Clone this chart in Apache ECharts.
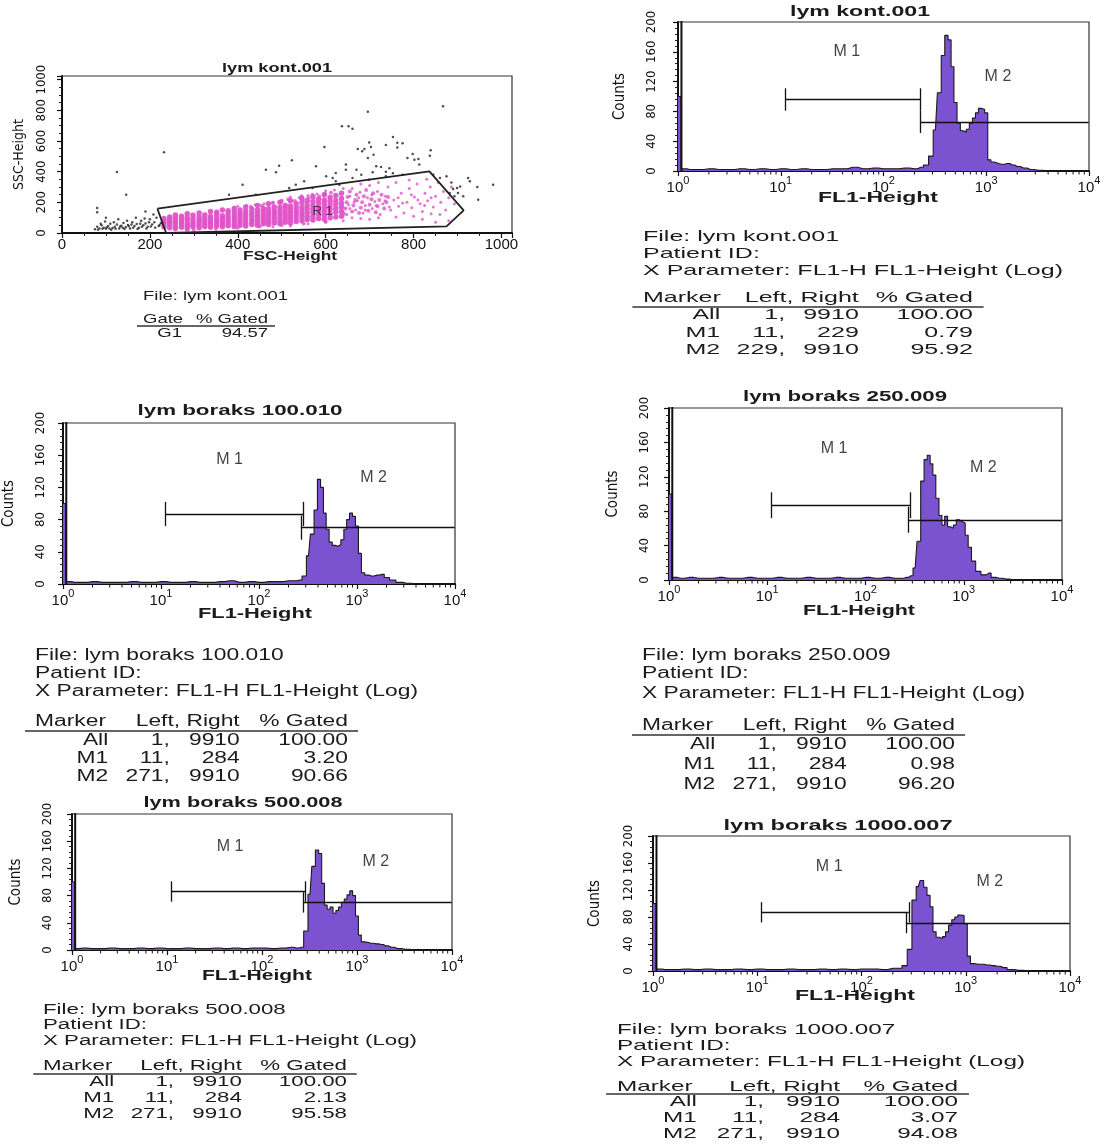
<!DOCTYPE html>
<html>
<head>
<meta charset="utf-8">
<script src="https://cdn.jsdelivr.net/npm/echarts@6/dist/echarts.min.js"></script>
<style>
  html, body { margin: 0; background: #fff; }
  #main { width: 1114px; height: 1144px; }
</style>
</head>
<body>
<div id="main"></div>
<script>
// ---------- data ----------
// FL1 channel centres (log scale) shared by all histograms
const fl1Bins = [1, 1.15, 1.3, 1.6, 2, 2.5, 3.2, 4, 5, 6.3,
  8, 10, 12.6, 16, 20, 25, 32, 40, 50, 63,
  80, 100, 126, 160, 200, 230, 260, 290, 320, 350,
  380, 410, 440, 470, 500, 540, 580, 620, 660, 710,
  760, 810, 870, 930, 1000, 1070, 1150, 1250, 1400, 1600,
  1800, 2000, 2300, 2700, 3200, 4000, 6000, 10000];

const countsKont = [100, 3, 2, 2, 3, 2, 2, 3, 2, 3,
  2, 3, 2, 3, 2, 2, 3, 3, 5, 3,
  4, 3, 3, 4, 3, 5, 8, 20, 55, 105,
  155, 182, 176, 140, 92, 64, 54, 52, 56, 64,
  71, 78, 84, 83, 78, 15, 12, 10, 9, 10,
  8, 6, 4, 2, 1, 0, 0, 0];
const countsB100 = [100, 3, 2, 2, 3, 2, 2, 2, 3, 2,
  2, 3, 2, 2, 3, 2, 2, 3, 4, 2,
  3, 2, 3, 3, 4, 4, 5, 10, 35, 62,
  92, 130, 120, 88, 68, 52, 48, 47, 49, 55,
  68, 80, 88, 84, 72, 38, 14, 11, 10, 11,
  12, 8, 5, 2, 1, 0, 0, 0];
const countsB250 = [100, 3, 2, 3, 2, 2, 3, 2, 2, 3,
  2, 2, 3, 2, 2, 3, 2, 2, 3, 2,
  2, 3, 2, 3, 2, 2, 3, 5, 14, 45,
  115, 140, 145, 135, 122, 95, 75, 64, 74, 62,
  60, 64, 70, 68, 66, 52, 38, 22, 10, 6,
  8, 3, 2, 1, 0, 0, 0, 0];
const countsB500 = [100, 2, 3, 2, 2, 3, 2, 2, 3, 2,
  3, 2, 2, 3, 2, 2, 3, 2, 3, 2,
  3, 3, 2, 3, 4, 3, 4, 28, 82, 123,
  147, 142, 98, 66, 60, 63, 54, 58, 63, 70,
  75, 81, 87, 80, 50, 22, 12, 11, 10, 9,
  8, 6, 4, 2, 1, 0, 0, 0];
const countsB1000 = [100, 3, 2, 2, 3, 2, 3, 2, 2, 3,
  2, 3, 2, 2, 3, 2, 2, 3, 2, 3,
  2, 3, 3, 2, 4, 4, 8, 32, 105, 125,
  134, 124, 112, 95, 58, 50, 48, 51, 58, 68,
  76, 80, 83, 82, 70, 22, 11, 10, 10, 9,
  8, 7, 5, 2, 1, 0, 0, 0];

// off-scale channel just above 10^0 (clipped at the top of every plot)
const spikeChannel = 1.08;
const spikeCount = 400;

// minor tick values of the log FL1 axis
const logMinorTicks = [2, 3, 4, 5, 6, 7, 8, 9,
  20, 30, 40, 50, 60, 70, 80, 90,
  200, 300, 400, 500, 600, 700, 800, 900,
  2000, 3000, 4000, 5000, 6000, 7000, 8000, 9000];

// marker ranges from the tables
const markerKont = { m1: [11, 229], m2: [229, 9910] };
const markerBoraks = { m1: [11, 284], m2: [271, 9910] };

// table rows: marker, left, right, % gated
const rowsKont = [['All', '1', '9910', '100.00'], ['M1', '11', '229', '0.79'], ['M2', '229', '9910', '95.92']];
const rowsB100 = [['All', '1', '9910', '100.00'], ['M1', '11', '284', '3.20'], ['M2', '271', '9910', '90.66']];
const rowsB250 = [['All', '1', '9910', '100.00'], ['M1', '11', '284', '0.98'], ['M2', '271', '9910', '96.20']];
const rowsB500 = [['All', '1', '9910', '100.00'], ['M1', '11', '284', '2.13'], ['M2', '271', '9910', '95.58']];
const rowsB1000 = [['All', '1', '9910', '100.00'], ['M1', '11', '284', '3.07'], ['M2', '271', '9910', '94.08']];
const gateRows = [['G1', '94.57']];

// FSC / SSC dot plot
const gateR1 = [[217, 159], [237, 0], [875, 43], [914, 148], [836, 402], [217, 159]];
const pinkCore = [
  [232,40],[232,62],[232,78],[232,95],
  [245,35],[245,55],[245,70],[245,88],[245,105],
  [258,30],[258,48],[258,66],[258,80],[258,98],[258,118],
  [272,38],[272,58],[272,74],[272,90],[272,110],
  [285,28],[285,45],[285,62],[285,84],[285,100],[285,125],
  [298,40],[298,55],[298,72],[298,92],[298,115],
  [312,35],[312,50],[312,68],[312,86],[312,104],[312,130],
  [325,42],[325,60],[325,78],[325,96],[325,118],
  [338,38],[338,55],[338,72],[338,90],[338,108],[338,140],
  [352,45],[352,62],[352,80],[352,98],[352,120],[352,135],
  [365,40],[365,58],[365,76],[365,94],[365,112],[365,150],
  [378,48],[378,66],[378,84],[378,102],[378,124],[378,145],
  [392,42],[392,60],[392,80],[392,100],[392,118],[392,138],[392,160],
  [405,50],[405,70],[405,88],[405,108],[405,128],[405,150],
  [418,45],[418,64],[418,84],[418,104],[418,122],[418,142],[418,170],
  [432,55],[432,74],[432,92],[432,112],[432,132],[432,155],
  [445,50],[445,70],[445,90],[445,110],[445,130],[445,150],[445,180],
  [458,60],[458,78],[458,98],[458,118],[458,138],[458,160],
  [470,55],[470,75],[470,95],[470,115],[470,135],[470,158],[470,190],
  [483,65],[483,85],[483,105],[483,125],[483,145],[483,170],
  [496,60],[496,80],[496,100],[496,122],[496,144],[496,166],[496,200],
  [508,70],[508,90],[508,112],[508,134],[508,156],[508,180],
  [520,65],[520,88],[520,110],[520,132],[520,154],[520,176],[520,210],
  [533,75],[533,98],[533,120],[533,142],[533,164],[533,190],
  [546,80],[546,104],[546,126],[546,150],[546,172],[546,200],[546,225],
  [558,88],[558,110],[558,134],[558,158],[558,182],[558,210],
  [571,85],[571,108],[571,132],[571,156],[571,180],[571,205],[571,235],
  [584,95],[584,120],[584,145],[584,170],[584,195],[584,220],
  [597,90],[597,115],[597,140],[597,165],[597,190],[597,215],[597,250],
  [610,100],[610,128],[610,155],[610,180],[610,205],[610,232],
  [623,105],[623,135],[623,160],[623,188],[623,212],[623,245],
  [636,110],[636,140],[636,170],[636,196],[636,225],[636,260]
];
const pinkMid = [
  [642,125],[645,160],[648,200],[650,235],[655,270],[660,140],[663,180],[667,215],[670,250],
  [676,130],[680,165],[683,200],[687,240],[692,280],[697,145],[700,185],[704,220],[708,260],
  [714,135],[718,175],[722,215],[727,250],[733,160],[738,200],[742,235],[612,262],[598,258],
  [585,240],[570,250],[560,228],[545,240],[530,208],[515,220],[500,205],[480,195],[455,178],
  [430,172],[300,20],[350,28],[400,35],[450,42],[500,52],[550,62],[600,75]
];
const pinkOuter = [
  [648,120],[652,185],[655,240],[660,290],[668,150],[672,210],[678,265],[685,130],[690,180],
  [695,230],[700,310],[706,160],[712,205],[718,270],[724,120],[730,190],[736,240],[742,300],
  [748,150],[755,215],[760,330],[766,175],[772,260],[778,130],[785,200],[790,290],[796,165],
  [802,235],[808,320],[815,190],[820,140],[826,260],[832,210],[838,300],[845,170],[850,240],
  [856,330],[862,200],[868,270],[873,150],[880,230],[886,300],[893,190],[860,120],[830,350],
  [790,345],[720,330],[680,320],[640,290],[620,280],[600,275],[580,255],[560,245],[540,230],
  [520,235],[500,215],[480,200],[460,190],[440,185],[420,180],[400,175],[560,60],[520,45],
  [480,40],[600,70],[640,80],[680,95],[720,100],[760,105],[800,110],[840,125],[880,80],
  [850,70],[820,90],[700,90],[660,100],[655,160],[665,200],[675,230],[690,150],[705,250],
  [715,180],[735,210],[745,170],[765,230],[775,195],[795,250],[810,215],[825,180],[840,230]
];
const blackDots = [
  [75,25],[80,40],[85,30],[90,50],[95,35],[100,28],[105,45],[110,60],[115,32],[120,40],
  [125,55],[130,30],[135,48],[140,65],[145,38],[150,52],[155,30],[160,70],[165,45],[170,58],
  [175,35],[180,80],[185,50],[190,62],[195,40],[200,90],[205,55],[210,70],[215,100],[220,45],
  [225,65],[88,60],[98,75],[108,30],[118,70],[128,90],[138,35],[148,80],[158,55],[168,100],
  [178,60],[188,95],[198,70],[208,120],[82,22],[92,28],[102,38],[112,22],[122,28],[132,42],
  [142,26],[152,44],[162,34],[172,26],[182,40],[192,30],[202,42],[212,34],[222,52],
  [80,163],[80,135],[100,100],[125,398],[146,250],[190,140],[232,526],
  [411,315],[380,250],[441,250],[464,413],[494,439],[487,396],[523,474],[517,293],[532,315],
  [551,337],[578,435],[597,561],[570,293],[601,370],[616,359],[623,391],[631,315],[646,446],
  [646,413],[637,696],[652,696],[661,680],[696,791],[673,548],[683,533],[688,548],[699,591],
  [703,561],[709,511],[696,489],[670,413],[681,380],[707,396],[715,435],[726,430],[737,400],
  [745,422],[753,389],[737,574],[753,626],[763,589],[775,585],[763,557],[786,489],[798,515],
  [802,478],[811,483],[813,446],[837,504],[839,539],[867,826],[875,370],[886,330],[890,287],
  [899,293],[906,304],[901,261],[913,239],[924,359],[928,337],[945,300],[947,217],[981,315],
  [882,261],[893,239],[860,359],[845,380],[623,337],[661,359],[699,348],[737,370],[775,380]
];

// ---------- layout ----------
const FONT = '"Liberation Sans", Arial, sans-serif';
const NARROW = '"Liberation Sans Narrow", "DejaVu Sans Condensed", sans-serif';
const INK = '#1b1b1b';
const PURPLE = '#7b52cf';
const PINK = '#e052c8';

const panels = [
  { file: 'lym kont.001', counts: countsKont, markers: markerKont, rows: rowsKont,
    grid: { left: 678, top: 22, width: 411, height: 149 }, nameGap: 50, labelMargin: 20,
    lv: [96, 66], m1At: [44, 160], m2At: [1300, 127],
    title: [860, 12, 140], xname: [878, 198, 120],
    table: { left: 643, w: 330, xw: 420, fs: 15, y: [237, 254, 271, 298, 307, 315, 333, 350] } },
  { file: 'lym boraks 100.010', counts: countsB100, markers: markerBoraks, rows: rowsB100,
    grid: { left: 63, top: 423, width: 392, height: 161 }, nameGap: 46, labelMargin: 16,
    lv: [87, 70], m1At: [50, 154], m2At: [1480, 132],
    title: [240, 411, 205], xname: [255, 614, 114],
    table: { left: 35, w: 313, xw: 383, fs: 16, y: [656, 674, 692, 722, 731, 741, 759, 777] } },
  { file: 'lym boraks 250.009', counts: countsB250, markers: markerBoraks, rows: rowsB250,
    grid: { left: 669, top: 408, width: 393, height: 172 }, nameGap: 48, labelMargin: 18,
    lv: [87, 70], m1At: [48, 153], m2At: [1580, 131],
    title: [845, 397, 204], xname: [859, 611, 112],
    table: { left: 642, w: 313, xw: 383, fs: 16, y: [656, 674, 694, 726, 735, 745, 765, 785] } },
  { file: 'lym boraks 500.008', counts: countsB500, markers: markerBoraks, rows: rowsB500,
    grid: { left: 72, top: 814, width: 380, height: 136 }, nameGap: 48, labelMargin: 18,
    lv: [86, 70], m1At: [46, 152], m2At: [1580, 130],
    title: [243, 803, 199], xname: [257, 976, 110],
    table: { left: 43, w: 304, xw: 374, fs: 14, y: [1010, 1025, 1041, 1066, 1074, 1082, 1098, 1114] } },
  { file: 'lym boraks 1000.007', counts: countsB1000, markers: markerBoraks, rows: rowsB1000,
    grid: { left: 653, top: 836, width: 417, height: 135 }, nameGap: 50, labelMargin: 18,
    lv: [87, 71], m1At: [49, 155], m2At: [1700, 132],
    title: [838, 826, 229], xname: [855, 996, 120],
    table: { left: 617, w: 341, xw: 408, fs: 15, y: [1030, 1046, 1062, 1087, 1094, 1102, 1118, 1134] } }
];

// column positions of the marker tables, as fractions of the table width
const COL = { marker: 0.234, comma: 0.431, right: 0.654, ruleL: -0.032, ruleR: 1.032 };

const meas = document.createElement('canvas').getContext('2d');
function textEl(str, x, y, size, width, o) {
  o = o || {};
  const weight = o.weight || 'normal';
  meas.font = weight + ' ' + size + 'px ' + FONT;
  const sx = width ? width / meas.measureText(str).width : (o.scale || 1);
  return {
    type: 'text', x: x, y: y, scaleX: sx, silent: true, z: 10,
    style: { text: str, x: 0, y: 0, fontSize: size, fontWeight: weight, fontFamily: FONT,
      fill: o.color || INK, align: o.align || 'left', verticalAlign: 'middle' }
  };
}
function ruleEl(x1, x2, y) {
  return { type: 'line', silent: true, z: 10, shape: { x1: x1, y1: y, x2: x2, y2: y },
    style: { stroke: '#333', lineWidth: 1.3 } };
}
function tableEls(t, fileName, rows) {
  const xp = 'X Parameter: FL1-H FL1-Height (Log)';
  meas.font = 'normal ' + t.fs + 'px ' + FONT;
  const s = t.xw / meas.measureText(xp).width;
  const L = t.left, W = t.w, els = [];
  const add = (str, x, y, align) => els.push(textEl(str, x, y, t.fs, 0, { scale: s, align: align }));
  add('File: ' + fileName, L, t.y[0]);
  add('Patient ID:', L, t.y[1]);
  add(xp, L, t.y[2]);
  add('Marker', L, t.y[3]);
  add('Left, Right', L + COL.right * W, t.y[3], 'right');
  add('% Gated', L + W, t.y[3], 'right');
  els.push(ruleEl(L + COL.ruleL * W, L + COL.ruleR * W, t.y[4]));
  rows.forEach((r, k) => {
    const y = t.y[5 + k];
    add(r[0], L + COL.marker * W, y, 'right');
    add(r[1] + ',', L + COL.comma * W, y, 'right');
    add(r[2], L + COL.right * W, y, 'right');
    add(r[3], L + W, y, 'right');
  });
  return els;
}

const axisLine = { show: true, onZero: false, lineStyle: { color: '#111', width: 2 } };
const tick = { show: true, length: 5, lineStyle: { color: '#111', width: 1.2 } };
const minor = (n) => ({ show: true, splitNumber: n, length: 3, lineStyle: { color: '#222', width: 1 } });

const grids = [{ left: 62, top: 76, width: 450, height: 157, show: true, borderColor: '#333', borderWidth: 1.2 }];
const xAxes = [{
  type: 'value', gridIndex: 0, min: 0, max: 1024, interval: 200,
  axisLine: axisLine, axisTick: tick, minorTick: minor(4), splitLine: { show: false },
  axisLabel: { margin: 4, fontFamily: FONT, fontSize: 15, color: '#111',
    formatter: v => (v % 200 === 0 ? String(v) : '') }
}];
const yAxes = [{
  type: 'value', gridIndex: 0, min: 0, max: 1024, interval: 200,
  name: 'SSC-Height', nameLocation: 'middle', nameRotate: 90, nameGap: 36,
  nameTextStyle: { fontFamily: NARROW, fontSize: 14, color: '#111' },
  axisLine: axisLine, axisTick: tick, minorTick: minor(4), splitLine: { show: false },
  axisLabel: { rotate: 90, margin: 14, fontFamily: NARROW, fontSize: 13, color: '#111',
    formatter: v => (v % 200 === 0 ? String(v) : '') }
}];
const series = [
  { type: 'scatter', xAxisIndex: 0, yAxisIndex: 0, data: pinkCore, symbolSize: 5.5,
    itemStyle: { color: PINK, opacity: 0.95 }, silent: true },
  { type: 'scatter', xAxisIndex: 0, yAxisIndex: 0, data: pinkMid, symbolSize: 4,
    itemStyle: { color: PINK }, silent: true },
  { type: 'scatter', xAxisIndex: 0, yAxisIndex: 0, data: pinkOuter, symbolSize: 3,
    itemStyle: { color: PINK }, silent: true },
  { type: 'scatter', xAxisIndex: 0, yAxisIndex: 0, data: blackDots, symbolSize: 2.5,
    itemStyle: { color: '#222' }, silent: true },
  { type: 'line', xAxisIndex: 0, yAxisIndex: 0, data: gateR1, symbol: 'none', silent: true,
    lineStyle: { color: '#222', width: 1.8 } },
  { type: 'scatter', xAxisIndex: 0, yAxisIndex: 0, data: [[593, 141]], symbolSize: 0, silent: true,
    itemStyle: { color: 'transparent' }, z: 5,
    label: { show: true, position: 'inside', formatter: 'R 1', fontFamily: FONT, fontSize: 13, color: '#222' } }
];

panels.forEach((p, k) => {
  const i = k + 1;
  grids.push(Object.assign({ show: true, borderColor: '#333', borderWidth: 1.2 }, p.grid));
  xAxes.push({
    type: 'log', logBase: 10, gridIndex: i, min: 1, max: 10000, splitNumber: 4,
    axisLine: axisLine, axisTick: tick, splitLine: { show: false },
    axisLabel: {
      margin: 4, formatter: v => '{b|10}{s|' + Math.round(Math.log10(v)) + '}',
      rich: {
        b: { fontSize: 15, fontFamily: FONT, color: '#111', verticalAlign: 'bottom', lineHeight: 20 },
        s: { fontSize: 11, fontFamily: FONT, color: '#111', verticalAlign: 'top', lineHeight: 20 }
      }
    }
  });
  yAxes.push({
    type: 'value', gridIndex: i, min: 0, max: 200, interval: 40,
    name: 'Counts', nameLocation: 'middle', nameRotate: 90, nameGap: p.nameGap,
    nameTextStyle: { fontFamily: NARROW, fontSize: 15, color: '#111' },
    axisLine: axisLine, axisTick: tick, minorTick: minor(5), splitLine: { show: false },
    axisLabel: { rotate: 90, margin: p.labelMargin, fontFamily: NARROW, fontSize: 13, color: '#111' }
  });
  series.push({
    type: 'line', xAxisIndex: i, yAxisIndex: i, step: 'middle', symbol: 'none', silent: true,
    data: fl1Bins.map((b, j) => [b, p.counts[j]]),
    lineStyle: { color: '#1a1a1a', width: 1.1 },
    areaStyle: { color: PURPLE, opacity: 1 }
  });
  const m = p.markers, h = 15, l1 = p.lv[0], l2 = p.lv[1];
  const segs = [
    [[m.m1[0], l1], [m.m1[1], l1]], [[m.m1[0], l1 - h], [m.m1[0], l1 + h]], [[m.m1[1], l1 - h], [m.m1[1], l1 + h]],
    [[m.m2[0], l2], [m.m2[1], l2]], [[m.m2[0], l2 - h], [m.m2[0], l2 + h]]
  ];
  series.push({
    type: 'line', xAxisIndex: i, yAxisIndex: i, symbol: 'none', silent: true, clip: true,
    data: [[spikeChannel, 0], [spikeChannel, spikeCount]],
    lineStyle: { color: '#111', width: 2 },
    markLine: {
      silent: true, symbol: ['none', 'none'], label: { show: false }, animation: false,
      lineStyle: { color: '#111', width: 1.3, type: 'solid' },
      data: segs.map(s => [{ coord: s[0] }, { coord: s[1] }])
    }
  });
  series.push({
    type: 'scatter', xAxisIndex: i, yAxisIndex: i, symbolSize: 0, silent: true,
    itemStyle: { color: 'transparent' },
    data: [{ value: p.m1At, name: 'M 1' }, { value: p.m2At, name: 'M 2' }],
    label: { show: true, position: 'inside', formatter: '{b}', fontFamily: FONT, fontSize: 16, color: '#111' }
  });
  // log-spaced minor ticks under the FL1 axis
  series.push({
    type: 'custom', xAxisIndex: i, yAxisIndex: i, silent: true, clip: false,
    data: logMinorTicks.map(v => [v, 0]),
    renderItem: (params, api) => {
      const pt = api.coord([api.value(0), 0]);
      return { type: 'line', shape: { x1: pt[0], y1: pt[1], x2: pt[0], y2: pt[1] + 3.5 },
        style: { stroke: '#111', lineWidth: 1 } };
    }
  });
});

// ---------- texts ----------
const graphics = [
  textEl('lym kont.001', 277, 68, 13, 110, { align: 'center', weight: 'bold' }),
  textEl('FSC-Height', 290, 256, 13, 94, { align: 'center', weight: 'bold' })
];
// gate table under the dot plot
(function () {
  const fs = 13, fileStr = 'File: lym kont.001';
  meas.font = 'normal ' + fs + 'px ' + FONT;
  const s = 145 / meas.measureText(fileStr).width;
  graphics.push(textEl(fileStr, 143, 296, fs, 0, { scale: s }));
  graphics.push(textEl('Gate', 143, 319, fs, 0, { scale: s }));
  graphics.push(textEl('% Gated', 268, 319, fs, 0, { scale: s, align: 'right' }));
  graphics.push(ruleEl(137, 275, 326));
  gateRows.forEach((r, k) => {
    graphics.push(textEl(r[0], 182, 333 + k * 15, fs, 0, { scale: s, align: 'right' }));
    graphics.push(textEl(r[1], 268, 333 + k * 15, fs, 0, { scale: s, align: 'right' }));
  });
})();
panels.forEach(p => {
  graphics.push(textEl(p.file, p.title[0], p.title[1], 14, p.title[2], { align: 'center', weight: 'bold' }));
  graphics.push(textEl('FL1-Height', p.xname[0], p.xname[1], 14, p.xname[2], { align: 'center', weight: 'bold' }));
  tableEls(p.table, p.file, p.rows).forEach(e => graphics.push(e));
});

const chart = echarts.init(document.getElementById('main'));
chart.setOption({
  backgroundColor: '#ffffff',
  animation: false,
  grid: grids,
  xAxis: xAxes,
  yAxis: yAxes,
  series: series,
  graphic: { elements: graphics }
});
window.addEventListener('resize', function () { chart.resize(); });
</script>
</body>
</html>
